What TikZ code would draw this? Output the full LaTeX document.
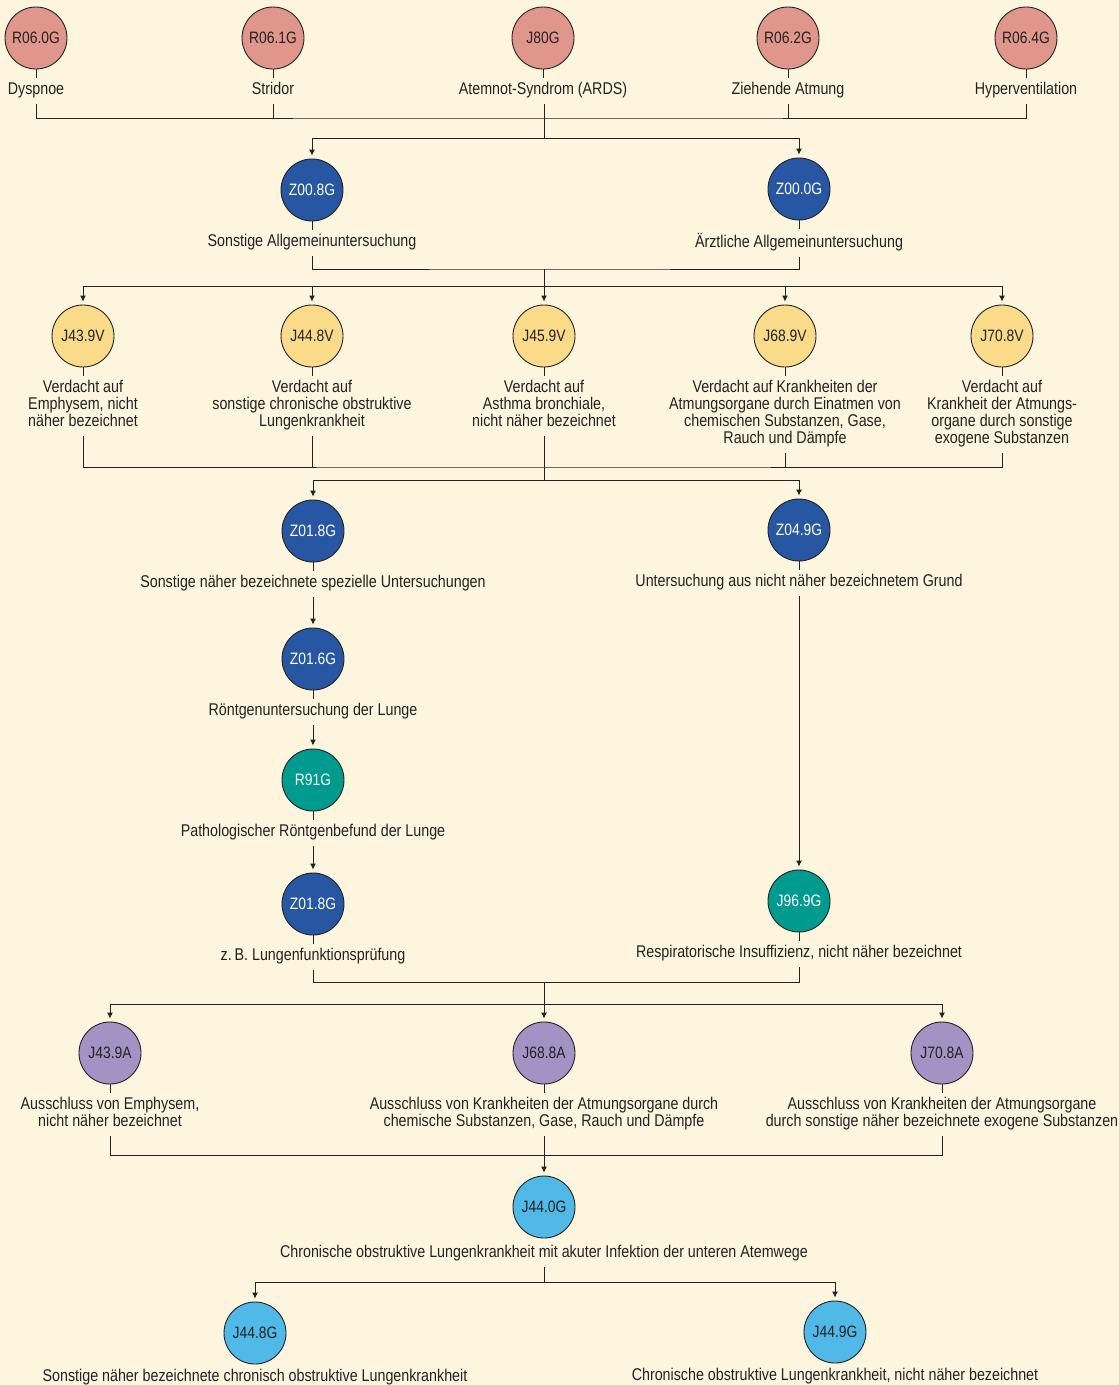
\documentclass[tikz,border=0pt]{standalone}
\usepackage{fontspec}
\setmainfont{Liberation Sans}[FakeStretch=0.84]
\usetikzlibrary{positioning, arrows.meta}

\definecolor{paper}{HTML}{FEF5DF}
\definecolor{symptomred}{HTML}{E0968A}
\definecolor{examblue}{HTML}{2756A2}
\definecolor{suspectyellow}{HTML}{F9DB8A}
\definecolor{findingteal}{HTML}{009B8F}
\definecolor{excludepurple}{HTML}{A592C4}
\definecolor{copdblue}{HTML}{50B9E8}
\definecolor{ink}{HTML}{222222}

\tikzset{
  desc_font/.style = {font=\fontsize{17}{17}\selectfont},
  icd_font/.style = {font=\fontsize{16.5}{17}\selectfont},
  wire/.style = {draw=ink, line width=0.9}
}
\tikzset{
  icd/.style = {circle, draw=ink, line width=0.9, minimum size=62, inner sep=0, icd_font, text=ink},
  symptom/.style = {icd, fill=symptomred},
  exam/.style = {icd, fill=examblue, text=white},
  suspect/.style = {icd, fill=suspectyellow},
  finding/.style = {icd, fill=findingteal, text=white},
  exclude/.style = {icd, fill=excludepurple},
  copd/.style = {icd, fill=copdblue},
  desc/.style = {desc_font, align=center, inner sep=4, text=ink,
    execute at begin node=\strut, execute at end node=\strut},
  under/.style = {desc, below=9pt of #1},
  into/.style = {wire, ->, shorten >=3pt}
}

\begin{document}
\begin{tikzpicture}[x=1pt, y=-1pt, >={Latex[length=6pt, width=6pt]}]

    \fill[paper] (0,0) rectangle (1119,1385);
    \useasboundingbox (0,0) rectangle (1119,1385);

    % Symptoms
    \node[symptom] (a_1) at (36,38) {R06.0G};
    \node[symptom] (a_2) at (273,38) {R06.1G};
    \node[symptom] (a_3) at (543,38) {J80G};
    \node[symptom] (a_4) at (788,38) {R06.2G};
    \node[symptom] (a_5) at (1026,38) {R06.4G};
    \node[under=a_1] (a_1_t) {Dyspnoe};
    \node[under=a_2] (a_2_t) {Stridor};
    \node[under=a_3] (a_3_t) {Atemnot-Syndrom (ARDS)};
    \node[under=a_4] (a_4_t) {Ziehende Atmung};
    \node[under=a_5] (a_5_t) {Hyperventilation};

    % General examination
    \node[exam] (b_1) at (312,190) {Z00.8G};
    \node[exam] (b_2) at (799,189) {Z00.0G};
    \node[under=b_1] (b_1_t) {Sonstige Allgemeinuntersuchung};
    \node[under=b_2] (b_2_t) {Ärztliche Allgemeinuntersuchung};

    % Suspected diagnoses
    \node[suspect] (c_1) at (83,336) {J43.9V};
    \node[suspect] (c_2) at (312,336) {J44.8V};
    \node[suspect] (c_3) at (544,336) {J45.9V};
    \node[suspect] (c_4) at (785,336) {J68.9V};
    \node[suspect] (c_5) at (1002,336) {J70.8V};
    \node[under=c_1] (c_1_t) {Verdacht auf\\Emphysem, nicht\\näher bezeichnet};
    \node[under=c_2] (c_2_t) {Verdacht auf\\sonstige chronische obstruktive\\Lungenkrankheit};
    \node[under=c_3] (c_3_t) {Verdacht auf\\Asthma bronchiale,\\nicht näher bezeichnet};
    \node[under=c_4] (c_4_t) {Verdacht auf Krankheiten der\\Atmungsorgane durch Einatmen von\\chemischen Substanzen, Gase,\\Rauch und Dämpfe};
    \node[under=c_5] (c_5_t) {Verdacht auf\\Krankheit der Atmungs-\\organe durch sonstige\\exogene Substanzen};

    % Special examinations (left) and unspecified reason (right)
    \node[exam] (d_1) at (313,531) {Z01.8G};
    \node[exam] (d_2) at (313,659) {Z01.6G};
    \node[finding] (d_3) at (313,780) {R91G};
    \node[exam] (d_4) at (313,904) {Z01.8G};
    \node[under=d_1] (d_1_t) {Sonstige näher bezeichnete spezielle Untersuchungen};
    \node[under=d_2] (d_2_t) {Röntgenuntersuchung der Lunge};
    \node[under=d_3] (d_3_t) {Pathologischer Röntgenbefund der Lunge};
    \node[under=d_4] (d_4_t) {z.\,B. Lungenfunktionsprüfung};
    \node[exam] (e_1) at (799,530) {Z04.9G};
    \node[finding] (e_2) at (799,901) {J96.9G};
    \node[under=e_1] (e_1_t) {Untersuchung aus nicht näher bezeichnetem Grund};
    \node[under=e_2] (e_2_t) {Respiratorische Insuffizienz, nicht näher bezeichnet};

    % Exclusions
    \node[exclude] (f_1) at (110,1053) {J43.9A};
    \node[exclude] (f_2) at (544,1053) {J68.8A};
    \node[exclude] (f_3) at (942,1053) {J70.8A};
    \node[under=f_1] (f_1_t) {Ausschluss von Emphysem,\\nicht näher bezeichnet};
    \node[under=f_2] (f_2_t) {Ausschluss von Krankheiten der Atmungsorgane durch\\chemische Substanzen, Gase, Rauch und Dämpfe};
    \node[under=f_3] (f_3_t) {Ausschluss von Krankheiten der Atmungsorgane\\durch sonstige näher bezeichnete exogene Substanzen};

    % COPD
    \node[copd] (g_1) at (544,1207) {J44.0G};
    \node[desc, below=3pt of g_1] (g_1_t) {Chronische obstruktive Lungenkrankheit mit akuter Infektion der unteren Atemwege};
    \node[copd] (h_1) at (255,1333) {J44.8G};
    \node[copd] (h_2) at (835,1332) {J44.9G};
    \node[desc, below=1pt of h_1] (h_1_t) {Sonstige näher bezeichnete chronisch obstruktive Lungenkrankheit};
    \node[desc, below=1pt of h_2] (h_2_t) {Chronische obstruktive Lungenkrankheit, nicht näher bezeichnet};

    % Junctions
    \coordinate (j_1) at (544,118);
    \coordinate (k_1) at (544,138);
    \coordinate (j_2) at (544,269);
    \coordinate (k_2) at (544,286);
    \coordinate (j_3) at (544,467);
    \coordinate (k_3) at (544,480);
    \coordinate (j_4) at (544,982);
    \coordinate (k_4) at (544,1004);
    \coordinate (j_5) at (544,1155);
    \coordinate (k_5) at (544,1282);

    % Ticks
    \draw[wire] (a_1.south)--(a_1_t.north);
    \draw[wire] (a_2.south)--(a_2_t.north);
    \draw[wire] (a_3.south)--(a_3_t.north);
    \draw[wire] (a_4.south)--(a_4_t.north);
    \draw[wire] (a_5.south)--(a_5_t.north);
    \draw[wire] (b_1.south)--(b_1_t.north);
    \draw[wire] (b_2.south)--(b_2_t.north);
    \draw[wire] (c_1.south)--(c_1_t.north);
    \draw[wire] (c_2.south)--(c_2_t.north);
    \draw[wire] (c_3.south)--(c_3_t.north);
    \draw[wire] (c_4.south)--(c_4_t.north);
    \draw[wire] (c_5.south)--(c_5_t.north);
    \draw[wire] (d_1.south)--(d_1_t.north);
    \draw[wire] (d_2.south)--(d_2_t.north);
    \draw[wire] (d_3.south)--(d_3_t.north);
    \draw[wire] (d_4.south)--(d_4_t.north);
    \draw[wire] (e_1.south)--(e_1_t.north);
    \draw[wire] (e_2.south)--(e_2_t.north);
    \draw[wire] (f_1.south)--(f_1_t.north);
    \draw[wire] (f_2.south)--(f_2_t.north);
    \draw[wire] (f_3.south)--(f_3_t.north);

    % Arrows and lines
    \draw[wire] (a_1_t.south) |- (j_1) -| (a_5_t.south);
    \draw[wire] (a_2_t.south)--(a_2_t.south |- j_1);
    \draw[wire] (a_4_t.south)--(a_4_t.south |- j_1);
    \draw[wire] (a_3_t.south -| k_1)--(k_1);
    \draw[into] (k_1) -| (b_1.north);
    \draw[into] (k_1) -| (b_2.north);

    \draw[wire] (b_1_t.south) |- (j_2) -| (b_2_t.south);
    \draw[wire] (j_2)--(k_2);
    \draw[into] (k_2) -| (c_1.north);
    \draw[into] (k_2) -| (c_2.north);
    \draw[into] (k_2)--(c_3.north);
    \draw[into] (k_2) -| (c_4.north);
    \draw[into] (k_2) -| (c_5.north);

    \draw[wire] (c_1_t.south) |- (j_3) -| (c_5_t.south);
    \draw[wire] (c_2_t.south)--(c_2_t.south |- j_3);
    \draw[wire] (c_4_t.south)--(c_4_t.south |- j_3);
    \draw[wire] (c_3_t.south)--(k_3);
    \draw[into] (k_3) -| (d_1.north);
    \draw[into] (k_3) -| (e_1.north);

    \draw[into] (d_1_t.south)--(d_2.north);
    \draw[into] (d_2_t.south)--(d_3.north);
    \draw[into] (d_3_t.south)--(d_4.north);
    \draw[into] (e_1_t.south)--(e_2.north);

    \draw[wire] (d_4_t.south) |- (j_4) -| (e_2_t.south);
    \draw[wire] (j_4)--(k_4);
    \draw[into] (k_4) -| (f_1.north);
    \draw[into] (k_4)--(f_2.north);
    \draw[into] (k_4) -| (f_3.north);

    \draw[wire] (f_1_t.south) |- (j_5) -| (f_3_t.south);
    \draw[into] (f_2_t.south)--(g_1.north);

    \draw[wire] (g_1_t.south)--(k_5);
    \draw[into] (k_5) -| (h_1.north);
    \draw[into] (k_5) -| (h_2.north);

\end{tikzpicture}
\end{document}
